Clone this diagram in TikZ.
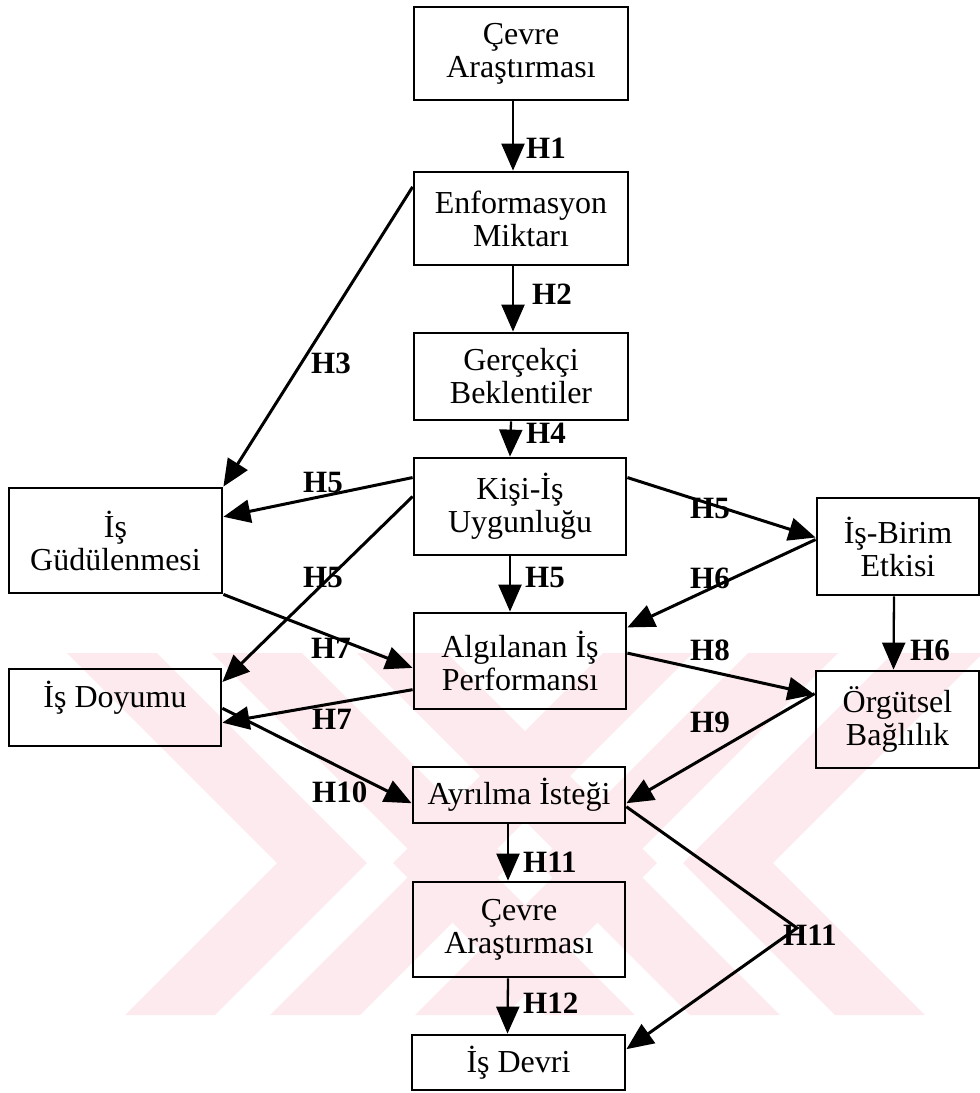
\documentclass[tikz,border=0pt]{standalone}
\usepackage{fontspec}
\setmainfont{Liberation Serif}
\usetikzlibrary{arrows.meta,calc}
\definecolor{wmpink}{RGB}{253,234,238}
\begin{document}
\begin{tikzpicture}[x=1pt,y=-1pt,
  box/.style={draw, line width=2.8pt, inner sep=0pt, align=center,
              font=\fontsize{32}{33}\selectfont},
  tip/.style={-{Triangle[length=27pt,width=23pt]}},
  conn/.style={tip, line width=3pt},
  vconn/.style={tip, line width=2.3pt},
  hyp/.style={font=\fontsize{31}{31}\selectfont\bfseries, inner sep=0pt, anchor=base west}]

\useasboundingbox (0,0) rectangle (980,1093);

% faint background emblem: nested bands forming an X
\begin{scope}
  \clip (0,653) rectangle (980,1015);
  \foreach \k in {0,1,2}{
    \pgfmathsetmacro\xa{67+145*\k}
    \pgfmathsetmacro\xb{1050-\xa}
    \fill[wmpink] (\xa,653) -- ++(90,0) -- ++(210,210) -- ++(-152,152)
                  -- ++(-90,0) -- ++(152,-152) -- cycle;
    \fill[wmpink] (\xb,653) -- ++(-90,0) -- ++(-210,210) -- ++(152,152)
                  -- ++(90,0) -- ++(-152,-152) -- cycle;
  }
\end{scope}

% boxes
\node[box, minimum width=214, minimum height=93] (cev1)  at (521,53.5)   {Çevre\\Araştırması};
\node[box, minimum width=214, minimum height=93] (enf)   at (521,218.5)  {Enformasyon\\Miktarı};
\node[box, minimum width=214, minimum height=87] (ger)   at (521,376.5)  {Gerçekçi\\Beklentiler};
\node[box, minimum width=212, minimum height=97] (kisi)  at (520,506.5)  {Kişi-İş\\Uygunluğu};
\node[box, minimum width=212, minimum height=96] (alg)   at (520,661)    {Algılanan İş\\Performansı};
\node[box, minimum width=213, minimum height=105] (gud)  at (115.5,540.5) {İş\\Güdülenmesi};
\node[box, minimum width=212, minimum height=77, text height=24pt, text depth=24pt] (doy) at (115,707.5) {İş Doyumu};
\node[box, minimum width=162, minimum height=97] (birim) at (898,546.5)  {İş-Birim\\Etkisi};
\node[box, minimum width=163, minimum height=97] (org)   at (897.5,719.5) {Örgütsel\\Bağlılık};
\node[box, minimum width=212, minimum height=56] (ayr)   at (519,795)    {Ayrılma İsteği};
\node[box, minimum width=212, minimum height=95] (cev2)  at (519,929.5)  {Çevre\\Araştırması};
\node[box, minimum width=213, minimum height=55] (devri) at (518.5,1062.5) {İş Devri};

% vertical links
\draw[vconn] ([xshift=-8pt]cev1.south) -- ([xshift=-8pt]enf.north);
\draw[vconn] ([xshift=-8pt]enf.south)  -- ([xshift=-8pt]ger.north);
\draw[vconn] ([xshift=-10pt]ger.south) -- ([xshift=-10pt]kisi.north);
\draw[vconn] ([xshift=-10pt]kisi.south) -- ([xshift=-10pt]alg.north);
\draw[vconn] ([xshift=-4pt]birim.south) -- ([xshift=-4pt]org.north);
\draw[vconn] ([xshift=-11pt]ayr.south) -- ([xshift=-11pt]cev2.north);
\draw[vconn] ([xshift=-11pt]cev2.south) -- ([xshift=-11pt]devri.north);

% diagonal links
\draw[conn] ($(enf.north west)!0.17!(enf.south west)$) -- (gud.north east);
\draw[conn] ($(kisi.north west)!0.21!(kisi.south west)$) -- ($(gud.north east)!0.28!(gud.south east)$);
\draw[conn] ($(kisi.north west)!0.40!(kisi.south west)$) -- ($(doy.north east)!0.18!(doy.south east)$);
\draw[conn] ($(kisi.north east)!0.21!(kisi.south east)$) -- ($(birim.north west)!0.41!(birim.south west)$);
\draw[conn] ($(birim.north west)!0.43!(birim.south west)$) -- ($(alg.north east)!0.16!(alg.south east)$);
\draw[conn] (gud.south east) -- ($(alg.north west)!0.57!(alg.south west)$);
\draw[conn] ($(alg.north west)!0.79!(alg.south west)$) -- ($(doy.north east)!0.69!(doy.south east)$);
\draw[conn] ($(doy.north east)!0.51!(doy.south east)$) -- ($(ayr.north west)!0.64!(ayr.south west)$);
\draw[conn] ($(alg.north east)!0.42!(alg.south east)$) -- ($(org.north west)!0.25!(org.south west)$);
\draw[conn] ($(org.north west)!0.24!(org.south west)$) -- ($(ayr.north east)!0.64!(ayr.south east)$);
\coordinate (bend) at (797,928);
\draw[conn] ($(ayr.north east)!0.70!(ayr.south east)$) -- (bend) -- ($(devri.north east)!0.27!(devri.south east)$);

% hypothesis labels
\node[hyp] (h1)   at (526,158)  {H1};
\node[hyp] (h2)   at (532,304)  {H2};
\node[hyp] (h3)   at (311,373)  {H3};
\node[hyp] (h4)   at (526,443)  {H4};
\node[hyp] (h5a)  at (303,492)  {H5};
\node[hyp] (h5b)  at (303,587)  {H5};
\node[hyp] (h5c)  at (690,518)  {H5};
\node[hyp] (h5d)  at (525,587)  {H5};
\node[hyp] (h6a)  at (690,588)  {H6};
\node[hyp] (h6b)  at (910,660)  {H6};
\node[hyp] (h7a)  at (311,658)  {H7};
\node[hyp] (h7b)  at (312,729)  {H7};
\node[hyp] (h8)   at (690,660)  {H8};
\node[hyp] (h9)   at (690,732)  {H9};
\node[hyp] (h10)  at (312,802)  {H10};
\node[hyp] (h11a) at (523,872)  {H11};
\node[hyp] (h11b) at (783,945)  {H11};
\node[hyp] (h12)  at (523,1013) {H12};
\end{tikzpicture}
\end{document}
